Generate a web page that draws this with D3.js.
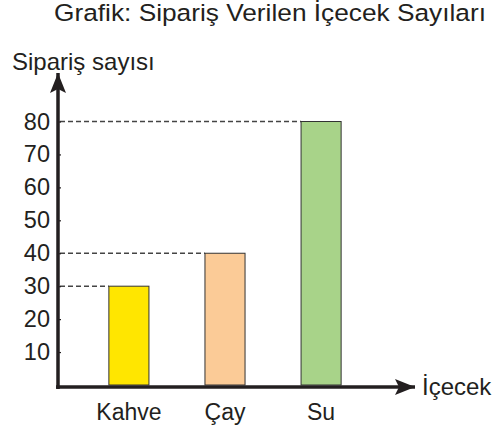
<!DOCTYPE html>
<html>
<head>
<meta charset="utf-8">
<script src="https://cdn.jsdelivr.net/npm/d3@7"></script>
<style>
  body { margin: 0; background: #fff; }
  svg text { font-family: "Liberation Sans", Arial, sans-serif; fill: #231f20; }
</style>
</head>
<body>
<svg id="svg" width="493" height="432"></svg>
<script>
// drinks and how many were ordered
var categories = ["Kahve", "Çay", "Su"];
var values = [30, 40, 80];
var colors = ["#ffe600", "#fbcb97", "#a8d389"];
var tickValues = [10, 20, 30, 40, 50, 60, 70, 80];
var guideValues = [30, 40, 80]; // dashed helper lines

var title = "Grafik: Sipariş Verilen İçecek Sayıları";
var yLabel = "Sipariş sayısı";
var xLabel = "İçecek";

var svg = d3.select("#svg");
var axisX = 58, axisY = 387;

var y = d3.scaleLinear().domain([0, 80]).range([385, 121.5]);
var x = d3.scaleBand().domain(categories).range([81, 369]).paddingInner(0.583).paddingOuter(0.29);

var defs = svg.append("defs");
defs.append("marker")
  .attr("id", "arrow")
  .attr("viewBox", "0 0 20 16")
  .attr("refX", 20).attr("refY", 8)
  .attr("markerWidth", 20).attr("markerHeight", 16)
  .attr("markerUnits", "userSpaceOnUse")
  .attr("orient", "auto")
  .append("path")
  .attr("d", "M0,0 L20,8 L0,16 L4,8 Z")
  .attr("fill", "#231f20");

// dashed guides from axis to bar
var data = categories.map(function (c, i) { return { name: c, value: values[i], color: colors[i] }; });
svg.append("g").selectAll("line")
  .data(data.filter(function (d) { return guideValues.indexOf(d.value) >= 0; }))
  .enter().append("line")
  .attr("x1", axisX + 2)
  .attr("x2", function (d) { return x(d.name); })
  .attr("y1", function (d) { return y(d.value); })
  .attr("y2", function (d) { return y(d.value); })
  .attr("stroke", "#444")
  .attr("stroke-width", 1.5)
  .attr("stroke-dasharray", "5,3");

// bars
svg.append("g").selectAll("rect")
  .data(data)
  .enter().append("rect")
  .attr("x", function (d) { return x(d.name); })
  .attr("y", function (d) { return y(d.value); })
  .attr("width", x.bandwidth())
  .attr("height", function (d) { return y(0) - y(d.value); })
  .attr("fill", function (d) { return d.color; })
  .attr("stroke", "#333")
  .attr("stroke-width", 1);

// y axis ticks + labels
var yAxis = d3.axisLeft(y).tickValues(tickValues).tickSize(-3).tickPadding(8);
var gy = svg.append("g").attr("transform", "translate(" + axisX + ",0)").call(yAxis);
gy.select(".domain").remove();
gy.selectAll(".tick line").attr("stroke", "#231f20").attr("stroke-width", 1.2);
gy.selectAll(".tick text").attr("font-size", 23.5).attr("font-family", null).attr("fill", "#231f20");

// x category labels
var xAxis = d3.axisBottom(x).tickSize(0).tickPadding(17);
var gx = svg.append("g").attr("transform", "translate(0," + axisY + ")").call(xAxis);
gx.select(".domain").remove();
gx.selectAll(".tick text").attr("font-size", 23).attr("font-family", null).attr("fill", "#231f20");

// axis lines with arrows
svg.append("line")
  .attr("x1", axisX).attr("y1", axisY + 2)
  .attr("x2", axisX).attr("y2", 73)
  .attr("stroke", "#231f20").attr("stroke-width", 3.5)
  .attr("marker-end", "url(#arrow)");
svg.append("line")
  .attr("x1", axisX - 2).attr("y1", axisY)
  .attr("x2", 415).attr("y2", axisY)
  .attr("stroke", "#231f20").attr("stroke-width", 3.5)
  .attr("marker-end", "url(#arrow)");

// titles
svg.append("text").attr("x", 54).attr("y", 21).attr("font-size", 24.5)
  .attr("textLength", 432).attr("lengthAdjust", "spacingAndGlyphs").text(title);
svg.append("text").attr("x", 12).attr("y", 70).attr("font-size", 24).text(yLabel);
svg.append("text").attr("x", 422).attr("y", 395).attr("font-size", 24).text(xLabel);
</script>
</body>
</html>
